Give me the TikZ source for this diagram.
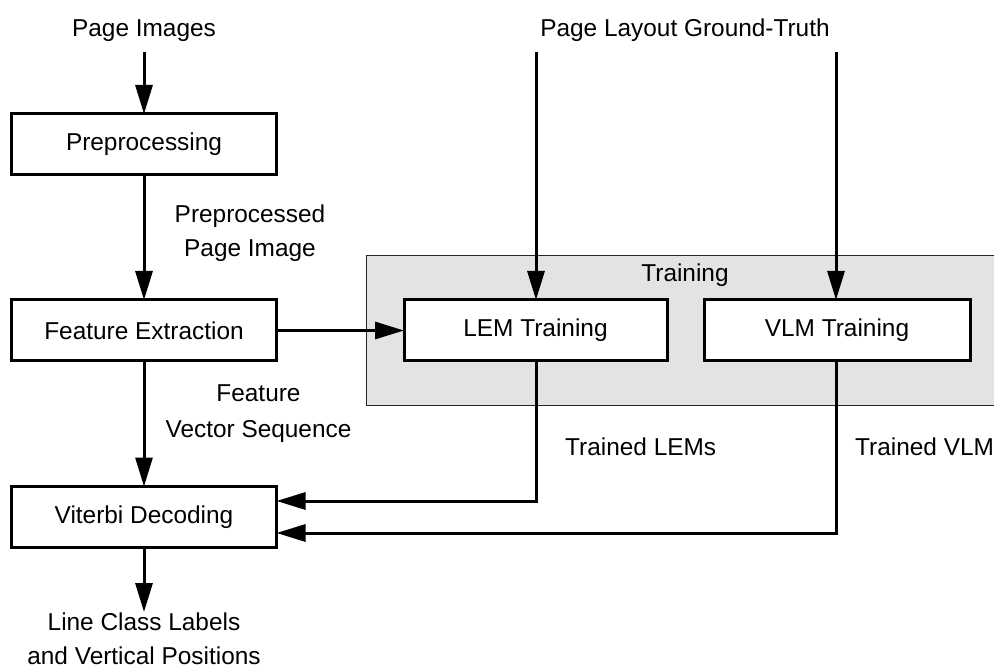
\documentclass[tikz,border=0pt]{standalone}
\usepackage{fontspec}
\setmainfont{Liberation Sans}
\usetikzlibrary{arrows.meta}

\begin{document}
\begin{tikzpicture}[x=1pt,y=-1pt,
    font=\fontsize{24.4}{29}\selectfont,
    procbox/.style={draw=black, line width=3pt, fill=white, inner sep=0pt, outer sep=0pt,
      minimum height=61pt},
    lbl/.style={inner sep=0pt, anchor=base},
    flow/.style={line width=3pt, -{Triangle[length=29pt,width=17pt]}},
  ]
  \useasboundingbox (0,0) rectangle (994,668);

  % training group background
  \path[fill=black!11, draw=black!85, line width=1pt] (366,256) rectangle (1010,406);
  \node[lbl] (trainlbl) at (685,282) {Training};

  % processing boxes
  \node[procbox, minimum width=265pt] (pre)  at (144,144.5) {Preprocessing};
  \node[procbox, minimum width=265pt] (feat) at (144,330.5) {Feature Extraction};
  \node[procbox, minimum width=265pt] (vit)  at (144,517)   {Viterbi Decoding};
  \node[procbox, minimum width=263pt] (lem)  at (535.5,330.5) {LEM Training};
  \node[procbox, minimum width=266pt] (vlm)  at (837,330.5)   {VLM Training};

  % inputs and outputs
  \node[lbl] (pimg) at (144,37) {Page Images};
  \node[lbl] (gt)   at (685,37) {Page Layout Ground-Truth};
  \node[lbl] (out1) at (144,630) {Line Class Labels};
  \node[lbl] (out2) at (144,664) {and Vertical Positions};

  % connector labels
  \node[lbl] (l1a) at (250,223) {Preprocessed};
  \node[lbl] (l1b) at (250,257) {Page Image};
  \node[lbl] (l2a) at (258.5,402) {Feature};
  \node[lbl] (l2b) at (258.5,438) {Vector Sequence};
  \node[lbl, anchor=base west] (l3) at (565,455) {Trained LEMs};
  \node[lbl, anchor=base west] (l4) at (855,455) {Trained VLM};

  % free ends of connectors
  \coordinate (pimgend) at (144,52);
  \coordinate (gtL) at (536,52);
  \coordinate (gtR) at (836,52);
  \coordinate (outend) at (144,612);

  % connectors
  \draw[flow] (pimgend) -- (pre.north);
  \draw[flow] (pre.south) -- (feat.north);
  \draw[flow] (feat.south) -- (vit.north);
  \draw[flow] (feat.east) -- (lem.west);
  \draw[flow] (gtL) -- (gtL |- lem.north);
  \draw[flow] (gtR) -- (gtR |- vlm.north);
  \draw[flow] (gtL |- lem.south) |- (vit.east |- 0,501);
  \draw[flow] (gtR |- vlm.south) |- (vit.east |- 0,533);
  \draw[flow] (vit.south) -- (outend);
\end{tikzpicture}
\end{document}
